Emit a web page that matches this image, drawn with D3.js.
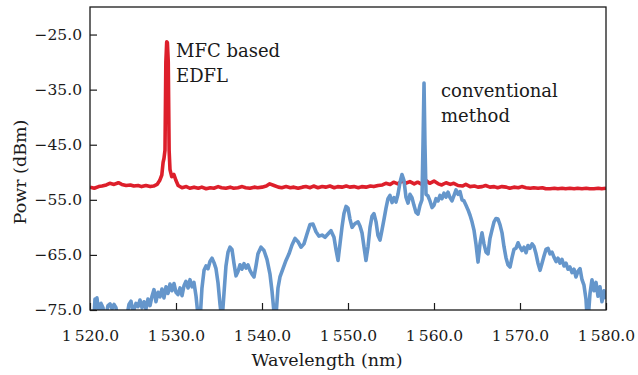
<!DOCTYPE html>
<html>
<head>
<meta charset="utf-8">
<script src="https://cdn.jsdelivr.net/npm/d3@7"></script>
<style>
  body { margin: 0; background: #fff; }
  svg text { font-family: "DejaVu Serif", serif; fill: #1a1a1a; }
</style>
</head>
<body>
<svg id="chart"></svg>
<script>
// Tick values and labels
var xTicks = [1520, 1530, 1540, 1550, 1560, 1570, 1580];
var xTickLabels = ["1\u2009520.0", "1\u2009530.0", "1\u2009540.0", "1\u2009550.0", "1\u2009560.0", "1\u2009570.0", "1\u2009580.0"];
var yTicks = [-75, -65, -55, -45, -35, -25];
var yTickLabels = ["\u221275.0", "\u221265.0", "\u221255.0", "\u221245.0", "\u221235.0", "\u221225.0"];

// MFC based EDFL spectrum [wavelength nm, power dBm]
var redSpectrum = [
  [1520.0, -52.7], [1520.5, -52.9], [1521.0, -52.6], [1521.4, -52.5], [1521.9, -52.3], [1522.3, -52.0],
  [1522.8, -52.2], [1523.3, -51.9], [1523.7, -52.2], [1524.2, -52.4], [1524.7, -52.3], [1525.1, -52.5],
  [1525.6, -52.4], [1526.0, -52.6], [1526.5, -52.4], [1527.0, -52.6], [1527.4, -52.5], [1527.8, -52.2],
  [1528.1, -51.5], [1528.35, -50.5], [1528.5, -48.2], [1528.6, -47.5], [1528.72, -46], [1528.82, -30],
  [1528.92, -26.3], [1529.0, -26.5], [1529.1, -30], [1529.2, -46], [1529.3, -49.5], [1529.5, -50.8],
  [1529.75, -50.4], [1530.0, -51.5], [1530.25, -52.4], [1530.7, -52.8], [1531.2, -52.6], [1531.6, -52.9],
  [1532.1, -52.7], [1532.6, -52.9], [1533.0, -52.7], [1533.5, -53.0], [1534.0, -52.8], [1534.4, -52.9],
  [1534.9, -52.6], [1535.3, -52.8], [1535.8, -52.9], [1536.3, -52.7], [1536.7, -52.9], [1537.2, -52.8],
  [1537.7, -52.6], [1538.1, -52.8], [1538.6, -52.9], [1539.1, -52.7], [1539.5, -52.8], [1540.0, -52.7],
  [1540.5, -52.5], [1540.9, -52.1], [1541.4, -52.4], [1541.9, -52.7], [1542.3, -52.8], [1542.8, -52.6],
  [1543.3, -52.8], [1543.7, -52.7], [1544.2, -52.9], [1544.7, -52.7], [1545.1, -52.6], [1545.6, -52.8],
  [1546.0, -52.5], [1546.5, -52.8], [1547.0, -52.6], [1547.4, -52.7], [1547.9, -52.5], [1548.4, -52.8],
  [1548.8, -52.6], [1549.3, -52.7], [1549.8, -52.5], [1550.2, -52.7], [1550.7, -52.6], [1551.2, -52.8],
  [1551.6, -52.6], [1552.1, -52.7], [1552.6, -52.5], [1553.0, -52.6], [1553.5, -52.4], [1554.0, -52.3],
  [1554.4, -52.0], [1554.9, -52.2], [1555.3, -51.8], [1555.8, -52.1], [1556.3, -51.6], [1556.7, -52.0],
  [1557.2, -51.7], [1557.7, -52.1], [1558.1, -51.8], [1558.6, -52.2], [1559.1, -51.5], [1559.5, -52.0],
  [1560.0, -51.6], [1560.5, -52.1], [1560.9, -52.3], [1561.4, -51.9], [1561.9, -52.2], [1562.3, -52.0],
  [1562.8, -52.4], [1563.3, -52.5], [1563.7, -52.2], [1564.2, -52.6], [1564.7, -52.5], [1565.1, -52.7],
  [1565.6, -52.6], [1566.0, -52.4], [1566.5, -52.7], [1567.0, -52.6], [1567.4, -52.8], [1567.9, -52.6],
  [1568.4, -52.7], [1568.8, -52.9], [1569.3, -52.7], [1569.8, -52.8], [1570.2, -52.6], [1570.7, -52.8],
  [1571.2, -52.9], [1571.6, -52.8], [1572.1, -52.9], [1572.6, -52.8], [1573.0, -53.0], [1573.5, -53.0],
  [1574.0, -52.9], [1574.4, -53.0], [1574.9, -52.9], [1575.3, -53.0], [1575.8, -52.9], [1576.3, -53.0],
  [1576.7, -52.9], [1577.2, -53.0], [1577.7, -52.9], [1578.1, -53.0], [1578.6, -53.0], [1579.1, -52.9],
  [1579.5, -53.0], [1580.0, -52.9]
];

// conventional method spectrum [wavelength nm, power dBm]
var blueSpectrum = [
  [1520.00, -77], [1520.47, -76], [1520.58, -73.0], [1520.70, -74.5], [1520.81, -72.8], [1521.05, -76],
  [1521.28, -73.8], [1521.51, -74.6], [1521.74, -77], [1522.09, -74.2], [1522.33, -73.9], [1522.56, -74.8],
  [1522.79, -74.0], [1523.02, -74.6], [1523.26, -77], [1524.19, -77], [1524.53, -74], [1524.77, -73.4],
  [1525.00, -75.5], [1525.35, -73.8], [1525.58, -74.4], [1525.81, -73.2], [1526.05, -74.6], [1526.28, -73.5],
  [1526.51, -74.8], [1526.74, -73.0], [1526.98, -74.2], [1527.21, -72.5], [1527.44, -71.3], [1527.67, -73.5],
  [1527.91, -71.8], [1528.14, -72.6], [1528.37, -71.2], [1528.60, -72.8], [1528.84, -70.8], [1529.07, -72.0],
  [1529.30, -70.3], [1529.53, -71.5], [1529.77, -70.2], [1530.00, -71.8], [1530.23, -72.2], [1530.47, -71.0],
  [1530.70, -72.4], [1530.93, -70.6], [1531.16, -69.8], [1531.40, -71.0], [1531.63, -69.5], [1531.86, -70.8],
  [1532.09, -70.0], [1532.33, -72.5], [1532.56, -76], [1532.79, -77], [1533.02, -71], [1533.26, -67.8],
  [1533.49, -67.0], [1533.72, -67.5], [1533.95, -66.2], [1534.19, -65.6], [1534.42, -66.4], [1534.65, -67.5],
  [1534.88, -70], [1535.12, -74], [1535.35, -77], [1535.58, -72], [1535.81, -67], [1536.05, -64.5],
  [1536.28, -63.6], [1536.51, -64], [1536.74, -66.5], [1536.98, -68.8], [1537.21, -68.0], [1537.44, -66.8],
  [1537.67, -67.6], [1537.91, -66.6], [1538.14, -67.4], [1538.37, -66.8], [1538.60, -67.8], [1538.84, -68.5],
  [1539.07, -69], [1539.30, -67], [1539.53, -64.8], [1539.88, -63.6], [1540.23, -64.2], [1540.58, -65.8],
  [1540.93, -68.5], [1541.16, -71.5], [1541.40, -75.5], [1541.51, -77], [1541.63, -76], [1541.86, -71],
  [1542.09, -69], [1542.44, -67.5], [1542.79, -66], [1543.14, -64.8], [1543.49, -63.2], [1543.84, -62.0],
  [1544.19, -62.6], [1544.53, -63.6], [1544.88, -63.0], [1545.23, -61.2], [1545.58, -59.5], [1545.93, -59.4],
  [1546.28, -60.8], [1546.63, -61.6], [1546.98, -61.4], [1547.33, -61.8], [1547.67, -61.2], [1548.02, -60.6],
  [1548.37, -61.8], [1548.60, -64], [1548.84, -66], [1549.07, -63], [1549.30, -60], [1549.53, -57.5],
  [1549.77, -56.2], [1550.00, -56.5], [1550.23, -58.5], [1550.47, -60], [1550.70, -59.5], [1550.93, -59.2],
  [1551.16, -59.0], [1551.40, -59.8], [1551.63, -61], [1551.86, -63.5], [1552.09, -66], [1552.33, -63.5],
  [1552.56, -60], [1552.79, -58.0], [1553.02, -57.5], [1553.26, -59], [1553.49, -61.5], [1553.72, -62.3],
  [1553.95, -60.5], [1554.19, -58.5], [1554.42, -56.5], [1554.65, -54.8], [1554.88, -54.2], [1555.12, -55.5],
  [1555.35, -54.6], [1555.58, -55.4], [1555.81, -54], [1556.05, -51.8], [1556.28, -50.4], [1556.51, -51.5],
  [1556.74, -54.5], [1556.98, -55.6], [1557.21, -54], [1557.44, -54.6], [1557.67, -56], [1557.91, -57.3],
  [1558.14, -57.6], [1558.37, -56], [1558.60, -55], [1558.72, -45], [1558.84, -33.8], [1558.95, -45],
  [1559.07, -54], [1559.30, -54.3], [1559.53, -55.2], [1559.77, -56.4], [1560.00, -56], [1560.23, -54.8],
  [1560.47, -55.2], [1560.70, -54.2], [1560.93, -54.8], [1561.16, -53.8], [1561.40, -54.5], [1561.63, -53.6],
  [1561.86, -54.6], [1562.09, -55.2], [1562.33, -54.2], [1562.56, -53.2], [1562.79, -54.0], [1563.02, -53.5],
  [1563.26, -55], [1563.49, -55.2], [1563.72, -56], [1563.95, -56.8], [1564.19, -57.8], [1564.42, -59],
  [1564.65, -60.5], [1564.88, -63], [1565.12, -66.3], [1565.35, -63], [1565.58, -61], [1565.81, -63],
  [1566.05, -64.5], [1566.28, -64.8], [1566.51, -62], [1566.74, -60.5], [1566.98, -59], [1567.21, -58.4],
  [1567.44, -58.5], [1567.67, -59.5], [1567.91, -61], [1568.14, -63.5], [1568.37, -65.5], [1568.60, -66.8],
  [1568.84, -67.2], [1569.07, -65.5], [1569.30, -64], [1569.53, -63.8], [1569.77, -62.8], [1570.00, -63.6],
  [1570.23, -64.2], [1570.47, -63.6], [1570.70, -64.6], [1570.93, -63.3], [1571.16, -63.8], [1571.40, -63.0],
  [1571.63, -63.5], [1571.86, -64.8], [1572.09, -66.5], [1572.33, -67.8], [1572.56, -66.5], [1572.79, -65.2],
  [1573.02, -64], [1573.26, -63.8], [1573.49, -64.8], [1573.72, -64.5], [1573.95, -65.4], [1574.19, -66.2],
  [1574.42, -65.6], [1574.65, -66.5], [1574.88, -65.8], [1575.12, -67], [1575.35, -66.5], [1575.58, -67.6],
  [1575.81, -67.2], [1576.05, -68.2], [1576.28, -67.6], [1576.51, -69], [1576.74, -68], [1576.98, -67.5],
  [1577.21, -69.5], [1577.44, -70.5], [1577.67, -73], [1577.79, -76], [1577.91, -77], [1578.14, -72],
  [1578.37, -69.5], [1578.60, -71.5], [1578.84, -70], [1579.07, -72.5], [1579.30, -70.8], [1579.53, -73.5],
  [1579.77, -71.5], [1580.00, -73]
];

var W = 638, H = 375;
var margin = { top: 7, right: 32, bottom: 65, left: 90 };
var width = W - margin.left - margin.right;
var height = H - margin.top - margin.bottom;

var svg = d3.select("#chart").attr("width", W).attr("height", H);
svg.append("rect").attr("width", W).attr("height", H).attr("fill", "#fff");

var g = svg.append("g").attr("transform", "translate(" + margin.left + "," + margin.top + ")");

var x = d3.scaleLinear().domain([1520, 1580]).range([0, width]);
var y = d3.scaleLinear().domain([-75, -20]).range([height, 0]);

// clip so the dips below -75 dBm are cut at the axis
g.append("clipPath").attr("id", "plotClip")
  .append("rect").attr("width", width).attr("height", height);

var line = d3.line()
  .x(function (d) { return x(d[0]); })
  .y(function (d) { return y(d[1]); });

var curves = g.append("g").attr("clip-path", "url(#plotClip)");

curves.append("path")
  .datum(redSpectrum)
  .attr("d", line)
  .attr("fill", "none")
  .attr("stroke", "#dd1f2b")
  .attr("stroke-width", 3.6)
  .attr("stroke-linejoin", "round");

curves.append("path")
  .datum(blueSpectrum)
  .attr("d", line)
  .attr("fill", "none")
  .attr("stroke", "#6596cb")
  .attr("stroke-width", 3.6)
  .attr("stroke-linejoin", "round");

// axes, ticks pointing inward
var xAxis = d3.axisBottom(x)
  .tickValues(xTicks)
  .tickSize(-7)
  .tickPadding(20)
  .tickFormat(function (d, i) { return xTickLabels[i]; });

var yAxis = d3.axisLeft(y)
  .tickValues(yTicks)
  .tickSize(-7)
  .tickPadding(8)
  .tickFormat(function (d, i) { return yTickLabels[i]; });

var gx = g.append("g").attr("transform", "translate(0," + height + ")").call(xAxis);
var gy = g.append("g").call(yAxis);

[gx, gy].forEach(function (ax) {
  ax.select(".domain").remove();
  ax.selectAll(".tick line").attr("stroke", "#1a1a1a").attr("stroke-width", 1.2);
  ax.selectAll(".tick text")
    .style("font-family", "DejaVu Serif, serif")
    .style("font-size", "15.5px")
    .attr("fill", "#1a1a1a");
});

// frame
g.append("rect")
  .attr("width", width).attr("height", height)
  .attr("fill", "none")
  .attr("stroke", "#1a1a1a")
  .attr("stroke-width", 1.3);

// axis titles
svg.append("text")
  .attr("x", 327).attr("y", 366)
  .attr("text-anchor", "middle")
  .style("font-size", "17.5px")
  .text("Wavelength (nm)");

svg.append("text")
  .attr("transform", "translate(26,172) rotate(-90)")
  .attr("text-anchor", "middle")
  .style("font-size", "17.5px")
  .text("Powr (dBm)");

// annotations
var notes = svg.append("g").style("font-size", "18px");
notes.append("text").attr("x", 176).attr("y", 57).text("MFC based");
notes.append("text").attr("x", 176).attr("y", 82).text("EDFL");
notes.append("text").attr("x", 441).attr("y", 97).text("conventional");
notes.append("text").attr("x", 441).attr("y", 122).text("method");
</script>
</body>
</html>
